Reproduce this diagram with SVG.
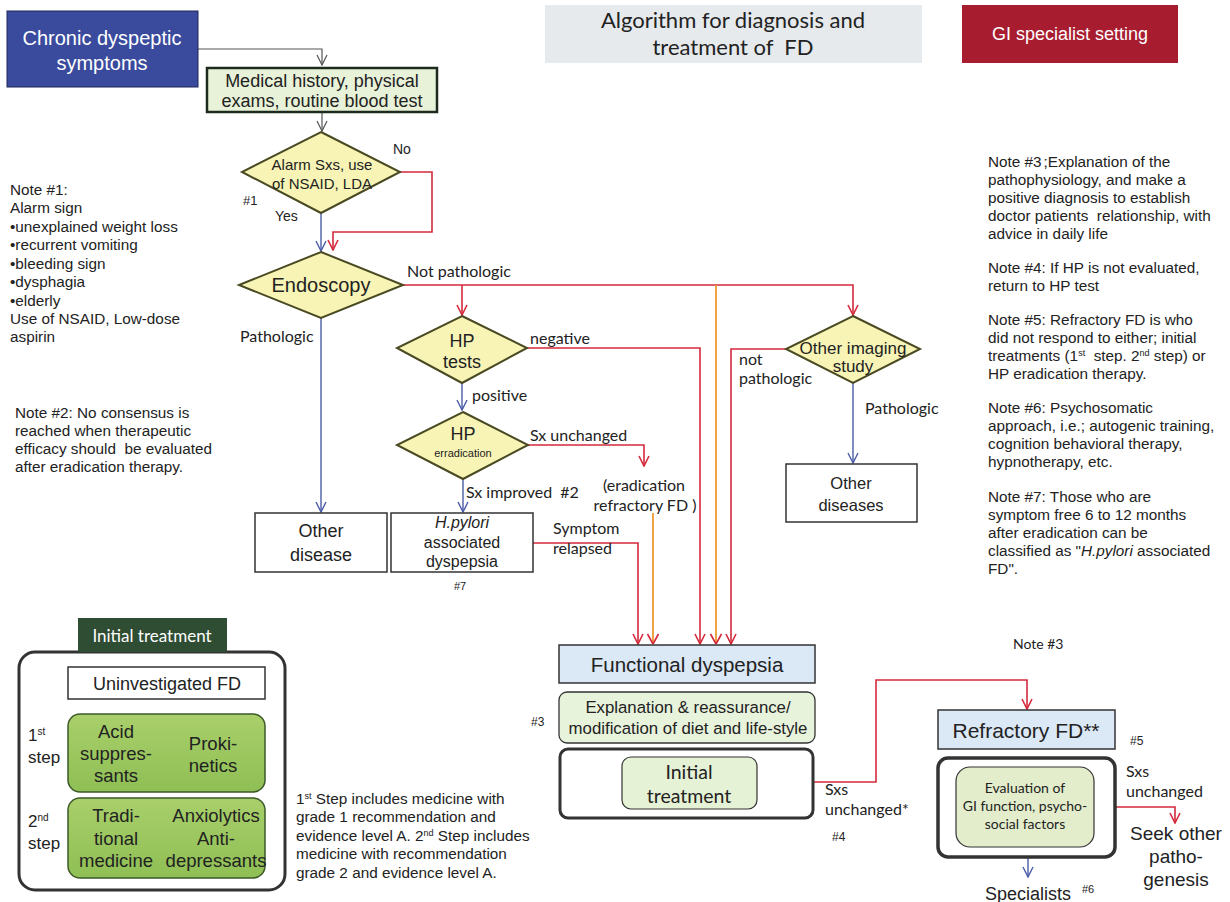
<svg xmlns="http://www.w3.org/2000/svg" width="1230" height="902" viewBox="0 0 1230 902">
<style>
text{font-family:"Liberation Sans",Arial,sans-serif;fill:#222}
.c{text-anchor:middle}
.l{font-family:Lato,"Open Sans",sans-serif}
.lb{font-family:Lato,"Open Sans",sans-serif;font-size:16px}
.n{font-size:15.3px}
.box{fill:#fff;stroke:#333;stroke-width:1.5}
.dia{fill:#f7f4b6;stroke:#4a4a22;stroke-width:2}
.red{fill:none;stroke:#d42a3c;stroke-width:1.6}
.org{fill:none;stroke:#ef9a2e;stroke-width:1.8}
.blu{fill:none;stroke:#4a5ca8;stroke-width:1.4}
.gry{fill:none;stroke:#555;stroke-width:1.2}
.grn{fill:url(#g1);stroke:#3d5a2a;stroke-width:1.5}
.g{font-size:18.5px}
</style>
<defs>
<linearGradient id="g1" x1="0" y1="0" x2="0" y2="1"><stop offset="0" stop-color="#a9cf6a"/><stop offset="1" stop-color="#8fbf55"/></linearGradient>
<marker id="ar" viewBox="0 0 12 12" refX="11" refY="6" markerWidth="12" markerHeight="12" markerUnits="userSpaceOnUse" orient="auto"><path d="M1,1 L11,6 L1,11" fill="none" stroke="#d42a3c" stroke-width="1.6"/></marker>
<marker id="ab" viewBox="0 0 12 12" refX="11" refY="6" markerWidth="12" markerHeight="12" markerUnits="userSpaceOnUse" orient="auto"><path d="M1,1 L11,6 L1,11" fill="none" stroke="#4a5ca8" stroke-width="1.4"/></marker>
<marker id="ag" viewBox="0 0 12 12" refX="11" refY="6" markerWidth="12" markerHeight="12" markerUnits="userSpaceOnUse" orient="auto"><path d="M1,1 L11,6 L1,11" fill="none" stroke="#555" stroke-width="1.2"/></marker>
</defs>
<rect width="1230" height="902" fill="#fff"/>

<g id="title">
<rect x="545" y="5" width="377" height="58" fill="#e6eaed"/>
<text class="c l" x="733" y="28" font-size="22">Algorithm for diagnosis and</text>
<text class="c l" x="733" y="55" font-size="22">treatment of&#160; FD</text>
</g>
<g id="gi-setting">
<rect x="962" y="5" width="216" height="58" fill="#a81c30"/>
<text class="c" x="1070" y="40" font-size="18" style="fill:#fff">GI specialist setting</text>
</g>

<g id="connectors">
<path class="gry" d="M198,49 H322 V65" marker-end="url(#ag)"/>
<path class="gry" d="M322,112 V131" marker-end="url(#ag)"/>
<path class="red" d="M400,172 H432 V232 H333 V250" marker-end="url(#ar)"/>
<path class="blu" d="M321,213 V251" marker-end="url(#ab)"/>
<path class="red" d="M403,285 H853 V315" marker-end="url(#ar)"/>
<path class="red" d="M462,285 V315" marker-end="url(#ar)"/>
<path class="org" d="M716,285 V644"/>
<path d="M716,644 l-5.5,-10 M716,644 l5.5,-10" fill="none" stroke="#d42a3c" stroke-width="1.6"/>
<path class="blu" d="M321,318 V512" marker-end="url(#ab)"/>
<path class="red" d="M527,348 H700 V644" marker-end="url(#ar)"/>
<path class="red" d="M786,349 H731 V644" marker-end="url(#ar)"/>
<path class="blu" d="M853,383 V463" marker-end="url(#ab)"/>
<path class="blu" d="M462,383 V410" marker-end="url(#ab)"/>
<path class="red" d="M528,445 H644 V466" marker-end="url(#ar)"/>
<path class="blu" d="M463,479 V512" marker-end="url(#ab)"/>
<path class="org" d="M653,513 V644"/>
<path d="M653,644 l-5.5,-10 M653,644 l5.5,-10" fill="none" stroke="#d42a3c" stroke-width="1.6"/>
<path class="red" d="M533,543 H638 V644" marker-end="url(#ar)"/>
<path class="red" d="M813,782 H876 V680 H1027 V709" marker-end="url(#ar)"/>
<path class="red" d="M1115,807 H1175 V823" marker-end="url(#ar)"/>
<path class="blu" d="M1028,858 V877" marker-end="url(#ab)"/>
</g>

<g id="chronic">
<rect x="7" y="11" width="191" height="76" fill="#3a4b9e" stroke="#1f2858" stroke-width="1"/>
<text class="c" x="102" y="45" font-size="20" style="fill:#fff">Chronic dyspeptic</text>
<text class="c" x="102" y="70" font-size="20" style="fill:#fff">symptoms</text>
</g>

<g id="medical-history">
<rect x="207" y="68" width="230" height="44" fill="#e8f2d8" stroke="#1e2a1e" stroke-width="2.5"/>
<text class="c" x="322" y="87" font-size="18">Medical history, physical</text>
<text class="c" x="322" y="107" font-size="18">exams, routine blood test</text>
</g>

<g id="alarm">
<polygon class="dia" points="321,132 400,172 321,213 242,172"/>
<text class="c" x="322" y="170" font-size="15">Alarm Sxs, use</text>
<text class="c" x="322" y="189" font-size="15">of NSAID, LDA</text>
<text x="393" y="154" font-size="14">No</text>
<text x="243" y="205" font-size="13">#1</text>
<text x="275" y="221" font-size="14">Yes</text>
</g>

<g id="endoscopy">
<polygon class="dia" points="321,252 403,285 321,318 239,285"/>
<text class="c" x="321" y="292" font-size="20">Endoscopy</text>
<text class="lb" x="407" y="277">Not pathologic</text>
<text class="lb" x="240" y="342">Pathologic</text>
</g>

<g id="hp-tests">
<polygon class="dia" points="462,316 527,348 462,383 397,348"/>
<text class="c" x="462" y="347" font-size="18">HP</text>
<text class="c" x="462" y="368" font-size="18">tests</text>
<text class="lb" x="530" y="344">negative</text>
<text class="lb" x="472" y="401">positive</text>
</g>

<g id="hp-eradication">
<polygon class="dia" points="463,412 528,445 463,479 397,445"/>
<text class="c" x="463" y="440" font-size="18">HP</text>
<text class="c" x="463" y="457" font-size="11">erradication</text>
<text class="lb" x="530" y="441">Sx unchanged</text>
<text class="lb" x="466" y="498">Sx improved&#160; #2</text>
</g>

<g id="eradication-refractory">
<text class="c lb" x="644" y="491">(eradication</text>
<text class="c lb" x="645" y="511">refractory FD )</text>
</g>

<g id="other-imaging">
<polygon class="dia" points="853,316 920,349 853,383 786,349"/>
<text class="c" x="853" y="354" font-size="17">Other imaging</text>
<text class="c" x="853" y="372" font-size="17">study</text>
<text class="lb" x="739" y="365">not</text>
<text class="lb" x="739" y="384">pathologic</text>
<text class="lb" x="865" y="414">Pathologic</text>
</g>

<g id="other-diseases">
<rect class="box" x="786" y="464" width="131" height="58"/>
<text class="c" x="851" y="489" font-size="16.5">Other</text>
<text class="c" x="851" y="511" font-size="16.5">diseases</text>
</g>

<g id="other-disease">
<rect class="box" x="255" y="513" width="132" height="59"/>
<text class="c" x="321" y="537" font-size="18">Other</text>
<text class="c" x="321" y="561" font-size="18">disease</text>
</g>

<g id="hpylori">
<rect class="box" x="391" y="513" width="142" height="59"/>
<text class="c" x="462" y="528" font-size="16" font-style="italic">H.pylori</text>
<text class="c" x="462" y="548" font-size="16">associated</text>
<text class="c" x="462" y="567" font-size="16">dyspepsia</text>
<text x="454" y="590" font-size="11">#7</text>
<text class="lb" x="553" y="534">Symptom</text>
<text class="lb" x="553" y="554">relapsed</text>
</g>

<g id="functional-dyspepsia">
<rect x="559" y="645" width="256" height="38" fill="#dbe8f5" stroke="#333" stroke-width="1.5"/>
<text class="c" x="687" y="672" font-size="20.5">Functional dyspepsia</text>
</g>

<g id="explanation">
<rect x="559" y="692" width="256" height="51" rx="8" fill="#e8f3dc" stroke="#333" stroke-width="1.3"/>
<text class="c" x="688" y="713" font-size="16.8">Explanation &amp; reassurance/</text>
<text class="c" x="688" y="734" font-size="16.8">modification of diet and life-style</text>
<text x="531" y="726" font-size="12">#3</text>
</g>

<g id="initial-treatment-center">
<rect x="560" y="749" width="253" height="69" rx="8" fill="#fff" stroke="#333" stroke-width="3"/>
<rect x="622" y="757" width="135" height="52" rx="9" fill="#e6f2d6" stroke="#333" stroke-width="1.2"/>
<text class="c l" x="689" y="779" font-size="19.5">Initial</text>
<text class="c l" x="689" y="803" font-size="19.5">treatment</text>
<text class="lb" x="825" y="795">Sxs</text>
<text class="lb" x="825" y="815">unchanged*</text>
<text x="832" y="841" font-size="12">#4</text>
</g>

<g id="note3-label">
<text class="l" x="1013" y="649" font-size="14">Note #3</text>
</g>

<g id="refractory">
<rect x="938" y="710" width="177" height="39" fill="#dbe8f5" stroke="#333" stroke-width="1.5"/>
<text class="c" x="1026" y="738" font-size="21">Refractory FD**</text>
<text x="1130" y="745" font-size="12">#5</text>
</g>

<g id="evaluation">
<rect x="938" y="758" width="177" height="99" rx="10" fill="#fff" stroke="#333" stroke-width="3.5"/>
<rect x="956" y="767" width="138" height="80" rx="14" fill="#e3edcc" stroke="#333" stroke-width="1.2"/>
<text class="c l" x="1025" y="793" font-size="14">Evaluation of</text>
<text class="c l" x="1025" y="811" font-size="14">GI function, psycho-</text>
<text class="c l" x="1025" y="829" font-size="14">social factors</text>
<text class="lb" x="1126" y="777">Sxs</text>
<text class="lb" x="1126" y="797">unchanged</text>
</g>

<g id="seek-other">
<text class="c" x="1176" y="840" font-size="19">Seek other</text>
<text class="c" x="1176" y="863" font-size="19">patho-</text>
<text class="c" x="1176" y="886" font-size="19">genesis</text>
</g>

<g id="specialists">
<text class="c" x="1028" y="900" font-size="18">Specialists</text>
<text x="1082" y="893" font-size="11">#6</text>
</g>

<g id="note1">
<text class="n" x="10" y="195">Note #1:</text>
<text class="n" x="10" y="213">Alarm sign</text>
<text class="n" x="10" y="232">•unexplained weight loss</text>
<text class="n" x="10" y="250">•recurrent vomiting</text>
<text class="n" x="10" y="269">•bleeding sign</text>
<text class="n" x="10" y="287">•dysphagia</text>
<text class="n" x="10" y="306">•elderly</text>
<text class="n" x="10" y="324">Use of NSAID, Low-dose</text>
<text class="n" x="10" y="342">aspirin</text>
</g>

<g id="note2">
<text class="n" x="15" y="418">Note #2: No consensus is</text>
<text class="n" x="15" y="436">reached when therapeutic</text>
<text class="n" x="15" y="454">efficacy should&#160; be evaluated</text>
<text class="n" x="15" y="472">after eradication therapy.</text>
</g>

<g id="notes-right">
<text class="n" x="988" y="167">Note #3<tspan dx="2">;</tspan>Explanation of the</text>
<text class="n" x="988" y="185">pathophysiology, and make a</text>
<text class="n" x="988" y="203">positive diagnosis to establish</text>
<text class="n" x="988" y="221">doctor patients&#160; relationship, with</text>
<text class="n" x="988" y="239">advice in daily life</text>
<text class="n" x="988" y="273">Note #4: If HP is not evaluated,</text>
<text class="n" x="988" y="291">return to HP test</text>
<text class="n" x="988" y="325">Note #5: Refractory FD is who</text>
<text class="n" x="988" y="343">did not respond to either; initial</text>
<text class="n" x="988" y="361">treatments (1<tspan font-size="9" dy="-5">st</tspan><tspan dy="5">&#160; step. 2</tspan><tspan font-size="9" dy="-5">nd</tspan><tspan dy="5"> step) or</tspan></text>
<text class="n" x="988" y="379">HP eradication therapy.</text>
<text class="n" x="988" y="413">Note #6: Psychosomatic</text>
<text class="n" x="988" y="431">approach, i.e.; autogenic training,</text>
<text class="n" x="988" y="449">cognition behavioral therapy,</text>
<text class="n" x="988" y="467">hypnotherapy, etc.</text>
<text class="n" x="988" y="502">Note #7: Those who are</text>
<text class="n" x="988" y="520">symptom free 6 to 12 months</text>
<text class="n" x="988" y="538">after eradication can be</text>
<text class="n" x="988" y="556">classified as "<tspan font-style="italic">H.pylori</tspan> associated</text>
<text class="n" x="988" y="574">FD".</text>
</g>

<g id="initial-treatment-panel">
<rect x="19" y="652" width="266" height="238" rx="16" fill="#fff" stroke="#333" stroke-width="3"/>
<rect x="78" y="618" width="149" height="34" fill="#2e4d33"/>
<text class="c l" x="152" y="642" font-size="17" style="fill:#fff">Initial treatment</text>
<rect x="68" y="667" width="197" height="32" fill="#fff" stroke="#333" stroke-width="1.5"/>
<text class="c" x="167" y="690" font-size="18">Uninvestigated FD</text>
<rect class="grn" x="68" y="714" width="197" height="78" rx="12"/>
<text class="c g" x="116" y="738">Acid</text>
<text class="c g" x="116" y="760">suppres-</text>
<text class="c g" x="116" y="782">sants</text>
<text class="c g" x="213" y="750">Proki-</text>
<text class="c g" x="213" y="772">netics</text>
<rect class="grn" x="68" y="798" width="197" height="80" rx="12"/>
<text class="c g" x="116" y="822">Tradi-</text>
<text class="c g" x="116" y="845">tional</text>
<text class="c g" x="116" y="867">medicine</text>
<text class="c g" x="216" y="822">Anxiolytics</text>
<text class="c g" x="216" y="845">Anti-</text>
<text class="c g" x="216" y="867">depressants</text>
<text x="28" y="741" font-size="17">1<tspan font-size="10" dy="-6">st</tspan></text>
<text x="28" y="763" font-size="17">step</text>
<text x="28" y="827" font-size="17">2<tspan font-size="10" dy="-6">nd</tspan></text>
<text x="28" y="849" font-size="17">step</text>
</g>

<g id="step-note">
<text class="n" x="296" y="804">1<tspan font-size="9" dy="-5">st</tspan><tspan dy="5"> Step includes medicine with</tspan></text>
<text class="n" x="296" y="822">grade 1 recommendation and</text>
<text class="n" x="296" y="841">evidence level A. 2<tspan font-size="9" dy="-5">nd</tspan><tspan dy="5"> Step includes</tspan></text>
<text class="n" x="296" y="859">medicine with recommendation</text>
<text class="n" x="296" y="878">grade 2 and evidence level A.</text>
</g>
</svg>
